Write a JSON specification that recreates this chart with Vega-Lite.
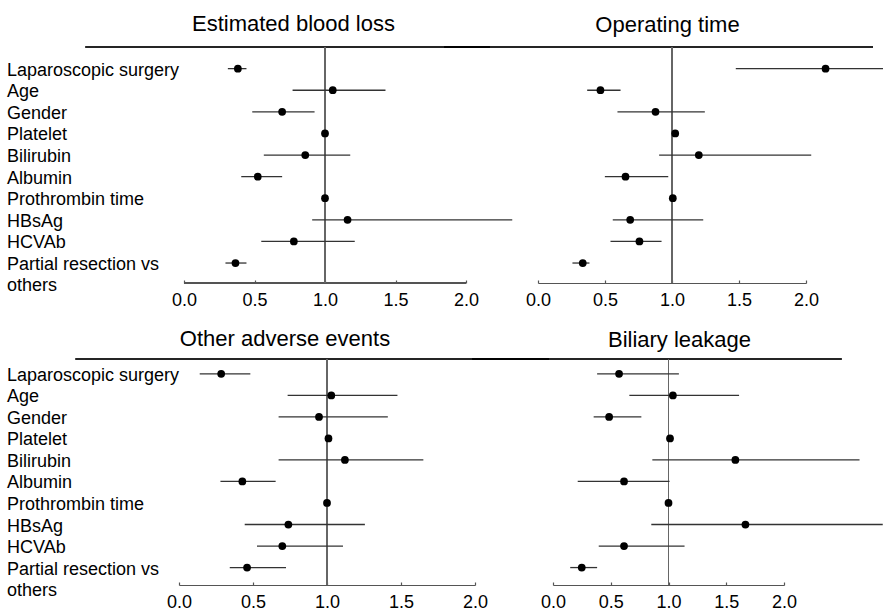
{
  "$schema": "https://vega.github.io/schema/vega-lite/v6.json",
  "autosize": {"type": "pad"},
  "padding": {"left": 6, "top": 12, "right": 0, "bottom": 0},
  "config": {
    "font": "Liberation Sans",
    "view": {"stroke": null},
    "axis": {"grid": false},
    "title": {"fontSize": 22, "fontWeight": "normal", "color": "#000", "frame": "group", "anchor": "middle", "baseline": "alphabetic"}
  },
  "datasets": {
    "forest": [
      {"panel": "EBL", "var": "Laparoscopic surgery", "est": 0.382, "lo": 0.311, "hi": 0.443},
      {"panel": "EBL", "var": "Age", "est": 1.055, "lo": 0.770, "hi": 1.429},
      {"panel": "EBL", "var": "Gender", "est": 0.696, "lo": 0.484, "hi": 0.926},
      {"panel": "EBL", "var": "Platelet", "est": 1.0, "lo": 1.0, "hi": 1.0},
      {"panel": "EBL", "var": "Bilirubin", "est": 0.86, "lo": 0.566, "hi": 1.179},
      {"panel": "EBL", "var": "Albumin", "est": 0.523, "lo": 0.406, "hi": 0.696},
      {"panel": "EBL", "var": "Prothrombin time", "est": 1.0, "lo": 1.0, "hi": 1.0},
      {"panel": "EBL", "var": "HBsAg", "est": 1.16, "lo": 0.909, "hi": 2.328},
      {"panel": "EBL", "var": "HCVAb", "est": 0.779, "lo": 0.548, "hi": 1.211},
      {"panel": "EBL", "var": "Partial resection vs others", "est": 0.365, "lo": 0.294, "hi": 0.443},
      {"panel": "OT", "var": "Laparoscopic surgery", "est": 2.146, "lo": 1.476, "hi": 2.58},
      {"panel": "OT", "var": "Age", "est": 0.466, "lo": 0.367, "hi": 0.616},
      {"panel": "OT", "var": "Gender", "est": 0.877, "lo": 0.593, "hi": 1.245},
      {"panel": "OT", "var": "Platelet", "est": 1.024, "lo": 1.024, "hi": 1.024},
      {"panel": "OT", "var": "Bilirubin", "est": 1.2, "lo": 0.904, "hi": 2.039},
      {"panel": "OT", "var": "Albumin", "est": 0.653, "lo": 0.499, "hi": 0.972},
      {"panel": "OT", "var": "Prothrombin time", "est": 1.006, "lo": 1.006, "hi": 1.006},
      {"panel": "OT", "var": "HBsAg", "est": 0.688, "lo": 0.558, "hi": 1.233},
      {"panel": "OT", "var": "HCVAb", "est": 0.757, "lo": 0.541, "hi": 0.922},
      {"panel": "OT", "var": "Partial resection vs others", "est": 0.334, "lo": 0.257, "hi": 0.384},
      {"panel": "OAE", "var": "Laparoscopic surgery", "est": 0.285, "lo": 0.14, "hi": 0.482},
      {"panel": "OAE", "var": "Age", "est": 1.029, "lo": 0.734, "hi": 1.476},
      {"panel": "OAE", "var": "Gender", "est": 0.946, "lo": 0.673, "hi": 1.411},
      {"panel": "OAE", "var": "Platelet", "est": 1.01, "lo": 1.01, "hi": 1.01},
      {"panel": "OAE", "var": "Bilirubin", "est": 1.121, "lo": 0.673, "hi": 1.651},
      {"panel": "OAE", "var": "Albumin", "est": 0.428, "lo": 0.28, "hi": 0.653},
      {"panel": "OAE", "var": "Prothrombin time", "est": 1.0, "lo": 1.0, "hi": 1.0},
      {"panel": "OAE", "var": "HBsAg", "est": 0.739, "lo": 0.444, "hi": 1.256},
      {"panel": "OAE", "var": "HCVAb", "est": 0.698, "lo": 0.527, "hi": 1.108},
      {"panel": "OAE", "var": "Partial resection vs others", "est": 0.46, "lo": 0.343, "hi": 0.723},
      {"panel": "BLK", "var": "Laparoscopic surgery", "est": 0.572, "lo": 0.382, "hi": 1.09},
      {"panel": "BLK", "var": "Age", "est": 1.038, "lo": 0.661, "hi": 1.611},
      {"panel": "BLK", "var": "Gender", "est": 0.486, "lo": 0.352, "hi": 0.765},
      {"panel": "BLK", "var": "Platelet", "est": 1.013, "lo": 1.013, "hi": 1.013},
      {"panel": "BLK", "var": "Bilirubin", "est": 1.579, "lo": 0.86, "hi": 2.654},
      {"panel": "BLK", "var": "Albumin", "est": 0.615, "lo": 0.214, "hi": 1.009},
      {"panel": "BLK", "var": "Prothrombin time", "est": 1.0, "lo": 1.0, "hi": 1.0},
      {"panel": "BLK", "var": "HBsAg", "est": 1.666, "lo": 0.851, "hi": 2.855},
      {"panel": "BLK", "var": "HCVAb", "est": 0.615, "lo": 0.396, "hi": 1.139},
      {"panel": "BLK", "var": "Partial resection vs others", "est": 0.249, "lo": 0.149, "hi": 0.382}
    ]
  },
  "data": {"name": "forest"},
  "bounds": "full",
  "spacing": 18,
  "vconcat": [
    {
      "bounds": "flush",
      "spacing": 72,
      "hconcat": [
        {
          "width": 287, "height": 236,
          "title": {"text": "Estimated blood loss", "dx": -29, "offset": 10.5},
          "transform": [{"filter": "datum.panel == 'EBL'"}],
          "layer": [
            {"mark": {"type": "rule", "color": "#000", "strokeOpacity": 0.35, "strokeWidth": 1.2},
             "encoding": {"x": {"datum": -0.7, "type": "quantitative", "scale": {"domain": [-0.0355, 2], "nice": false, "zero": false}, "title": null},
                          "x2": {"datum": 2.17}, "y": {"value": 0}}},
            {"mark": {"type": "rule", "color": "#555", "strokeWidth": 1.2},
             "encoding": {"x": {"datum": 0, "type": "quantitative", "scale": {"domain": [-0.0355, 2], "nice": false, "zero": false}, "title": null},
                          "x2": {"datum": 2}, "y": {"value": "height"}}},
            {"mark": {"type": "rule", "color": "#666", "strokeWidth": 1},
             "encoding": {"x": {"datum": 1, "type": "quantitative", "scale": {"domain": [-0.0355, 2], "nice": false, "zero": false}, "title": null}}},
            {"mark": {"type": "rule", "color": "#333", "strokeWidth": 1.3},
             "encoding": {
               "y": {"field": "var", "type": "nominal", "sort": ["Laparoscopic surgery","Age","Gender","Platelet","Bilirubin","Albumin","Prothrombin time","HBsAg","HCVAb","Partial resection vs others"],
                     "scale": {"type": "point", "padding": 0.963, "align": 0.52},
                     "axis": {"title": null, "labelAlign": "left", "labelPadding": 172.5, "labelFontSize": 18, "labelBaseline": "top", "labelOffset": -7.5, "labelLineHeight": 21, "labelLimit": 400, "labelColor": "#000", "ticks": false, "tickSize": 0, "domain": false,
                              "labelExpr": "datum.value == 'Partial resection vs others' ? ['Partial resection vs', 'others'] : datum.value"}},
               "x": {"field": "lo", "type": "quantitative", "scale": {"domain": [-0.0355, 2], "nice": false, "zero": false}, "title": null,
                     "axis": {"values": [0, 0.5, 1, 1.5, 2], "format": ".1f", "labelFontSize": 18, "labelColor": "#000", "tickSize": -3, "labelPadding": 11, "domain": false, "tickColor": "#555", "tickWidth": 1.2, "labelFlush": false, "labelOverlap": false, "title": null}},
               "x2": {"field": "hi"}}},
            {"mark": {"type": "circle", "size": 60, "color": "#000", "opacity": 1},
             "encoding": {
               "y": {"field": "var", "type": "nominal", "sort": ["Laparoscopic surgery","Age","Gender","Platelet","Bilirubin","Albumin","Prothrombin time","HBsAg","HCVAb","Partial resection vs others"]},
               "x": {"field": "est", "type": "quantitative", "scale": {"domain": [-0.0355, 2], "nice": false, "zero": false}, "title": null}}}
          ]
        },
        {
          "width": 268, "height": 236,
          "title": {"text": "Operating time", "dx": -4.5, "offset": 9.5},
          "transform": [{"filter": "datum.panel == 'OT'"}],
          "layer": [
            {"mark": {"type": "rule", "color": "#000", "strokeOpacity": 0.35, "strokeWidth": 1.2},
             "encoding": {"x": {"datum": -0.7, "type": "quantitative", "scale": {"domain": [0, 2], "nice": false, "zero": false}, "title": null},
                          "x2": {"datum": 2.5}, "y": {"value": 0}}},
            {"mark": {"type": "rule", "color": "#666", "strokeWidth": 1},
             "encoding": {"x": {"datum": 1, "type": "quantitative", "scale": {"domain": [0, 2], "nice": false, "zero": false}, "title": null}}},
            {"mark": {"type": "rule", "color": "#333", "strokeWidth": 1.3},
             "encoding": {
               "y": {"field": "var", "type": "nominal", "sort": ["Laparoscopic surgery","Age","Gender","Platelet","Bilirubin","Albumin","Prothrombin time","HBsAg","HCVAb","Partial resection vs others"],
                     "scale": {"type": "point", "padding": 0.963, "align": 0.52}, "axis": null},
               "x": {"field": "lo", "type": "quantitative", "scale": {"domain": [0, 2], "nice": false, "zero": false}, "title": null,
                     "axis": {"values": [0, 0.5, 1, 1.5, 2], "format": ".1f", "labelFontSize": 18, "labelColor": "#000", "tickSize": -3, "labelPadding": 11, "domainColor": "#555", "tickColor": "#555", "domainWidth": 1.2, "tickWidth": 1.2, "labelFlush": false, "labelOverlap": false, "title": null}},
               "x2": {"field": "hi"}}},
            {"mark": {"type": "circle", "size": 60, "color": "#000", "opacity": 1},
             "encoding": {
               "y": {"field": "var", "type": "nominal", "sort": ["Laparoscopic surgery","Age","Gender","Platelet","Bilirubin","Albumin","Prothrombin time","HBsAg","HCVAb","Partial resection vs others"]},
               "x": {"field": "est", "type": "quantitative", "scale": {"domain": [0, 2], "nice": false, "zero": false}, "title": null}}}
          ]
        }
      ]
    },
    {
      "bounds": "flush",
      "spacing": 78,
      "hconcat": [
        {
          "width": 296, "height": 226,
          "title": {"text": "Other adverse events", "dx": -42, "offset": 7.5},
          "transform": [{"filter": "datum.panel == 'OAE'"}],
          "layer": [
            {"mark": {"type": "rule", "color": "#000", "strokeOpacity": 0.35, "strokeWidth": 1.2},
             "encoding": {"x": {"datum": -0.7, "type": "quantitative", "scale": {"domain": [0, 2], "nice": false, "zero": false}, "title": null},
                          "x2": {"datum": 2.5}, "y": {"value": 0}}},
            {"mark": {"type": "rule", "color": "#666", "strokeWidth": 1},
             "encoding": {"x": {"datum": 1, "type": "quantitative", "scale": {"domain": [0, 2], "nice": false, "zero": false}, "title": null}}},
            {"mark": {"type": "rule", "color": "#333", "strokeWidth": 1.3},
             "encoding": {
               "y": {"field": "var", "type": "nominal", "sort": ["Laparoscopic surgery","Age","Gender","Platelet","Bilirubin","Albumin","Prothrombin time","HBsAg","HCVAb","Partial resection vs others"],
                     "scale": {"type": "point", "padding": 0.75, "align": 0.46},
                     "axis": {"title": null, "labelAlign": "left", "labelPadding": 172.5, "labelFontSize": 18, "labelBaseline": "top", "labelOffset": -7.5, "labelLineHeight": 21, "labelLimit": 400, "labelColor": "#000", "ticks": false, "tickSize": 0, "domain": false,
                              "labelExpr": "datum.value == 'Partial resection vs others' ? ['Partial resection vs', 'others'] : datum.value"}},
               "x": {"field": "lo", "type": "quantitative", "scale": {"domain": [0, 2], "nice": false, "zero": false}, "title": null,
                     "axis": {"values": [0, 0.5, 1, 1.5, 2], "format": ".1f", "labelFontSize": 18, "labelColor": "#000", "tickSize": -3, "labelPadding": 11, "domainColor": "#555", "tickColor": "#555", "domainWidth": 1.2, "tickWidth": 1.2, "labelFlush": false, "labelOverlap": false, "title": null}},
               "x2": {"field": "hi"}}},
            {"mark": {"type": "circle", "size": 60, "color": "#000", "opacity": 1},
             "encoding": {
               "y": {"field": "var", "type": "nominal", "sort": ["Laparoscopic surgery","Age","Gender","Platelet","Bilirubin","Albumin","Prothrombin time","HBsAg","HCVAb","Partial resection vs others"]},
               "x": {"field": "est", "type": "quantitative", "scale": {"domain": [0, 2], "nice": false, "zero": false}, "title": null}}}
          ]
        },
        {
          "width": 231, "height": 226,
          "title": {"text": "Biliary leakage", "dx": 11, "offset": 6},
          "transform": [{"filter": "datum.panel == 'BLK'"}],
          "layer": [
            {"mark": {"type": "rule", "color": "#000", "strokeOpacity": 0.35, "strokeWidth": 1.2},
             "encoding": {"x": {"datum": -0.7, "type": "quantitative", "scale": {"domain": [0, 2], "nice": false, "zero": false}, "title": null},
                          "x2": {"datum": 2.5}, "y": {"value": 0}}},
            {"mark": {"type": "rule", "color": "#666", "strokeWidth": 1},
             "encoding": {"x": {"datum": 1, "type": "quantitative", "scale": {"domain": [0, 2], "nice": false, "zero": false}, "title": null}}},
            {"mark": {"type": "rule", "color": "#333", "strokeWidth": 1.3},
             "encoding": {
               "y": {"field": "var", "type": "nominal", "sort": ["Laparoscopic surgery","Age","Gender","Platelet","Bilirubin","Albumin","Prothrombin time","HBsAg","HCVAb","Partial resection vs others"],
                     "scale": {"type": "point", "padding": 0.75, "align": 0.46}, "axis": null},
               "x": {"field": "lo", "type": "quantitative", "scale": {"domain": [0, 2], "nice": false, "zero": false}, "title": null,
                     "axis": {"values": [0, 0.5, 1, 1.5, 2], "format": ".1f", "labelFontSize": 18, "labelColor": "#000", "tickSize": -3, "labelPadding": 11, "domainColor": "#555", "tickColor": "#555", "domainWidth": 1.2, "tickWidth": 1.2, "labelFlush": false, "labelOverlap": false, "title": null}},
               "x2": {"field": "hi"}}},
            {"mark": {"type": "circle", "size": 60, "color": "#000", "opacity": 1},
             "encoding": {
               "y": {"field": "var", "type": "nominal", "sort": ["Laparoscopic surgery","Age","Gender","Platelet","Bilirubin","Albumin","Prothrombin time","HBsAg","HCVAb","Partial resection vs others"]},
               "x": {"field": "est", "type": "quantitative", "scale": {"domain": [0, 2], "nice": false, "zero": false}, "title": null}}}
          ]
        }
      ]
    }
  ]
}
